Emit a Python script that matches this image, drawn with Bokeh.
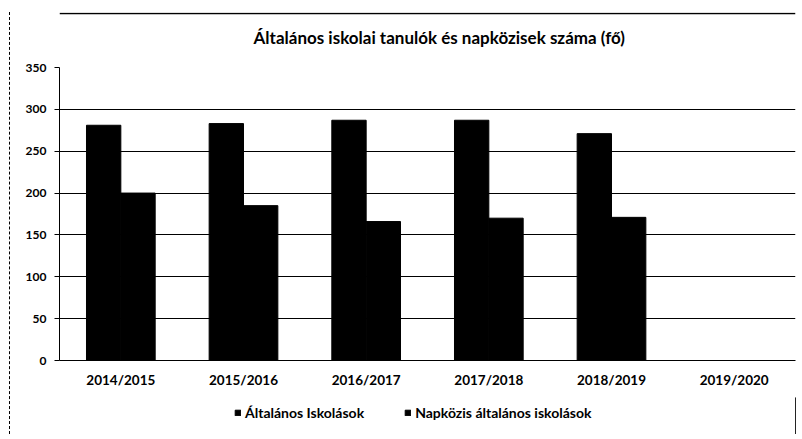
from bokeh.plotting import figure
from bokeh.layouts import column
from bokeh.models import ColumnDataSource, FactorRange, FixedTicker, Legend, LegendItem, Span
from bokeh.core.properties import value
from bokeh.transform import dodge
from bokeh.embed import file_html
from bokeh.resources import INLINE

title_text = "Általános iskolai tanulók és napközisek száma (fő)"
years = ["2014/2015", "2015/2016", "2016/2017", "2017/2018", "2018/2019", "2019/2020"]
altalanos = [281, 283, 287, 287, 271, 0]
napkozis = [200, 185, 166, 170, 171, 0]
y_ticks = [0, 50, 100, 150, 200, 250, 300, 350]
series_names = ["Általános Iskolások", "Napközis általános iskolások"]

src = ColumnDataSource(dict(year=years, a=altalanos, n=napkozis))

FONT = "Lato"

# title strip (with the chart box's top border line)
tp = figure(width=786, height=41, output_backend="svg", toolbar_location=None,
            min_border=0, x_range=(0, 1), y_range=(0, 1),
            x_axis_location=None, y_axis_location=None)
tp.grid.visible = False
tp.outline_line_color = None
tp.add_layout(Span(location=0.975, dimension="width", line_color="black", line_width=1.5))
tp.text(x=[0.516], y=[0.39], text=[title_text], text_align="center", text_baseline="middle",
        text_font=value(FONT), text_font_size="17px", text_font_style="bold", text_color="black")

p = figure(
    x_range=FactorRange(*years), y_range=(0, 350),
    width=786, height=344, output_backend="svg", toolbar_location=None,
    min_border_left=49, min_border_right=1, min_border_top=14, min_border_bottom=37,
)

r1 = p.vbar(x=dodge("year", -0.14, range=p.x_range), top="a", width=0.28, source=src,
            fill_color="black", line_color="black")
r2 = p.vbar(x=dodge("year", 0.14, range=p.x_range), top="n", width=0.28, source=src,
            fill_color="black", line_color="black")

p.outline_line_color = None
p.xgrid.grid_line_color = None
p.ygrid.grid_line_color = "black"
p.ygrid.grid_line_width = 1
p.yaxis.ticker = FixedTicker(ticks=y_ticks)

for ax in (p.xaxis[0], p.yaxis[0]):
    ax.axis_line_color = "black"
    ax.major_label_text_font = FONT
    ax.major_label_text_font_style = "bold"
    ax.major_label_text_color = "black"
    ax.minor_tick_line_color = None

p.yaxis.major_label_text_font_size = "12px"
p.xaxis.major_label_text_font_size = "13.5px"
p.yaxis.major_tick_line_color = "black"
p.yaxis.major_tick_out = 5
p.yaxis.major_tick_in = 0
p.yaxis.major_label_standoff = 8
p.xaxis.major_tick_line_color = None
p.xaxis.major_tick_out = 0
p.xaxis.major_tick_in = 0
p.xaxis.major_label_standoff = 11

# legend-only figure below the chart
lp = figure(width=786, height=37, output_backend="svg", toolbar_location=None,
            min_border=0, x_range=(0, 1), y_range=(0, 1),
            x_axis_location=None, y_axis_location=None)
lp.grid.visible = False
lp.outline_line_color = None
hidden = ColumnDataSource(dict(x=[5], top=[5]))
l1 = lp.vbar(x="x", top="top", width=0.1, source=hidden, fill_color="black", line_color="black")
l2 = lp.vbar(x="x", top="top", width=0.1, source=hidden, fill_color="black", line_color="black")

legend = Legend(items=[
    LegendItem(label=series_names[0], renderers=[l1]),
    LegendItem(label=series_names[1], renderers=[l2]),
], orientation="horizontal", location=(175, 13))
legend.label_text_font = FONT
legend.label_text_font_style = "bold"
legend.label_text_font_size = "14px"
legend.label_text_color = "black"
legend.glyph_width = 7
legend.glyph_height = 7
legend.label_standoff = 4
legend.spacing = 40
legend.border_line_color = None
legend.background_fill_alpha = 0
legend.padding = 2
legend.margin = 0
lp.add_layout(legend)

layout = column(tp, p, lp, spacing=0, margin=(12, 0, 0, 9))
layout.styles = {"border-left": "1px dashed black"}

open("out.html", "w").write(file_html(layout, INLINE))
